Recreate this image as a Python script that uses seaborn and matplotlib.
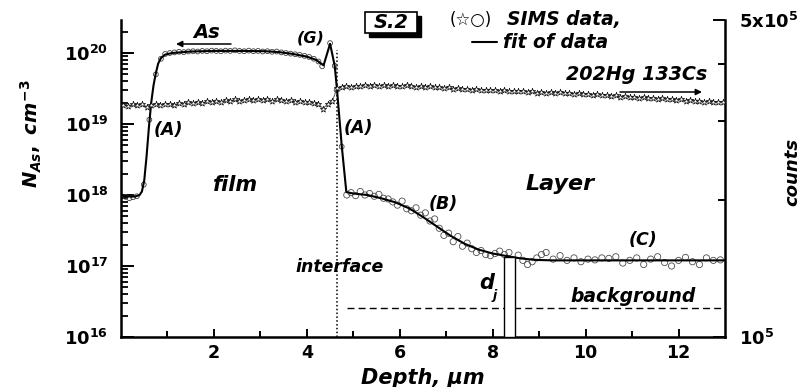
import numpy as np
import matplotlib
matplotlib.use("Agg")
import matplotlib.pyplot as plt
import seaborn as sns
from matplotlib.ticker import FixedLocator, FuncFormatter, NullFormatter
from matplotlib.patches import Rectangle
from matplotlib.lines import Line2D

# ---- As concentration: fitted profile (depth in um, N in cm^-3) ----
fit_depth = [0.05, 0.3, 0.4, 0.45, 0.5, 0.55, 0.6, 0.65, 0.7, 0.75, 0.8, 0.86,
             0.95, 1.1, 1.5, 2.0, 2.6, 3.1, 3.4, 3.7, 4.0, 4.2, 4.36, 4.5, 4.6,
             4.65, 4.75, 4.85, 5.0, 5.3, 5.6, 5.9, 6.2, 6.5, 6.8, 7.1, 7.4, 7.7,
             8.0, 8.3, 8.6, 8.9, 9.3, 13.0]
fit_conc = [9.6e17, 9.5e17, 1.0e18, 1.12e18, 1.6e18, 3.5e18, 8.9e18, 2.0e19,
            3.5e19, 5.2e19, 7.1e19, 8.5e19, 9.5e19, 1.0e20, 1.05e20, 1.07e20,
            1.07e20, 1.06e20, 1.03e20, 9.7e19, 8.9e19, 8.0e19, 6.7e19, 1.35e20,
            6.6e19, 3.0e19, 5.0e18, 1.1e18, 1.05e18, 1.0e18, 9.0e17, 7.9e17,
            6.5e17, 4.9e17, 3.6e17, 2.65e17, 2.05e17, 1.7e17, 1.5e17, 1.38e17,
            1.28e17, 1.22e17, 1.2e17, 1.2e17]

# ---- As SIMS data points: film ----
film_depth = [0.1, 0.18, 0.26, 0.34, 0.49, 0.61, 0.75, 0.86, 0.95, 1.05, 1.15,
              1.25, 1.35, 1.45, 1.55, 1.65, 1.75, 1.85, 1.95, 2.05, 2.15, 2.25,
              2.35, 2.45, 2.55, 2.65, 2.75, 2.85, 2.95, 3.05, 3.15, 3.25, 3.35,
              3.45, 3.55, 3.65, 3.75, 3.85, 3.95, 4.05, 4.15, 4.25, 4.33, 4.5,
              4.6, 4.64, 4.75]
film_conc = [9.4e17, 9.0e17, 9.3e17, 9.6e17, 1.4e18, 1.15e19, 5.0e19, 8.3e19,
             9.7e19, 1.0e20, 1.02e20, 1.04e20, 1.03e20, 1.05e20, 1.06e20,
             1.05e20, 1.07e20, 1.06e20, 1.08e20, 1.07e20, 1.06e20, 1.08e20,
             1.07e20, 1.09e20, 1.07e20, 1.06e20, 1.08e20, 1.06e20, 1.07e20,
             1.05e20, 1.06e20, 1.04e20, 1.05e20, 1.02e20, 1.0e20, 9.8e19,
             9.6e19, 9.4e19, 9.1e19, 8.8e19, 8.3e19, 7.6e19, 6.5e19, 1.38e20,
             6.6e19, 3.0e19, 4.8e18]

# ---- As SIMS data points: layer ----
layer_depth = [4.86, 4.95, 5.05, 5.15, 5.25, 5.35, 5.45, 5.55, 5.65, 5.75,
               5.85, 5.95, 6.05, 6.15, 6.25, 6.35, 6.45, 6.55, 6.65, 6.75,
               6.85, 6.95, 7.05, 7.15, 7.25, 7.35, 7.45, 7.55, 7.65, 7.75,
               7.85, 7.95, 8.05, 8.15, 8.25, 8.35, 8.55, 8.65, 8.75, 8.85,
               8.95, 9.05, 9.15, 9.3, 9.45, 9.6, 9.75, 9.9, 10.05, 10.2,
               10.35, 10.5, 10.65, 10.8, 10.95, 11.1, 11.25, 11.4, 11.55,
               11.7, 11.85, 12.0, 12.15, 12.3, 12.45, 12.6, 12.75, 12.9]
layer_conc = [1.0e18, 1.08e18, 9.8e17, 1.12e18, 1.0e18, 1.05e18, 9.6e17,
              1.02e18, 9.0e17, 8.8e17, 8.0e17, 7.2e17, 8.2e17, 6.4e17, 6.0e17,
              6.6e17, 5.2e17, 5.6e17, 4.3e17, 4.6e17, 3.4e17, 2.7e17, 2.9e17,
              2.2e17, 2.6e17, 1.9e17, 2.1e17, 1.75e17, 1.55e17, 1.65e17,
              1.45e17, 1.4e17, 1.5e17, 1.62e17, 1.45e17, 1.55e17, 1.42e17,
              1.2e17, 1.05e17, 1.15e17, 1.3e17, 1.45e17, 1.55e17, 1.25e17,
              1.4e17, 1.2e17, 1.3e17, 1.15e17, 1.25e17, 1.22e17, 1.3e17,
              1.28e17, 1.35e17, 1.1e17, 1.2e17, 1.3e17, 1.05e17, 1.25e17,
              1.35e17, 1.12e17, 1.0e17, 1.2e17, 1.32e17, 1.15e17, 1.05e17,
              1.3e17, 1.2e17, 1.22e17]

# ---- 202Hg 133Cs matrix signal, counts in units of 1e5, 0.1 um steps ----
hg_counts = [3.25, 3.23, 3.26, 3.24, 3.26, 3.22, 3.25, 3.27, 3.25, 3.26,
             3.27, 3.25, 3.28, 3.27, 3.29, 3.28, 3.30, 3.28, 3.31, 3.30,
             3.32, 3.30, 3.33, 3.31, 3.34, 3.32, 3.33, 3.35, 3.33, 3.34,
             3.33, 3.35, 3.32, 3.34, 3.33, 3.31, 3.33, 3.30, 3.32, 3.30,
             3.29, 3.28, 3.26, 3.19, 3.27, 3.31, 3.54, 3.56, 3.57, 3.56,
             3.58, 3.57, 3.59, 3.58, 3.60, 3.58, 3.59, 3.57, 3.59, 3.58,
             3.57, 3.59, 3.57, 3.56, 3.58, 3.56, 3.57, 3.55, 3.56, 3.54,
             3.55, 3.53, 3.54, 3.52, 3.53, 3.51, 3.52, 3.50, 3.51, 3.50,
             3.51, 3.49, 3.50, 3.48, 3.49, 3.48, 3.49, 3.47, 3.48, 3.46,
             3.47, 3.45, 3.47, 3.46, 3.47, 3.45, 3.46, 3.44, 3.45, 3.43,
             3.44, 3.42, 3.43, 3.41, 3.42, 3.40, 3.41, 3.39, 3.40, 3.38,
             3.39, 3.37, 3.38, 3.36, 3.37, 3.35, 3.36, 3.34, 3.35, 3.33,
             3.34, 3.32, 3.33, 3.31, 3.32, 3.30, 3.31, 3.29, 3.30, 3.30]
hg_depth = np.round(0.05 + 0.1 * np.arange(len(hg_counts)), 2)

interface_depth, interface_top = 4.64, 1.1e20
background_level, background_start = 2.6e16, 4.86
dj_left, dj_right, dj_top = 8.25, 8.49, 1.35e17

x_major = [2, 4, 6, 8, 10, 12]
x_minor = [1, 3, 5, 7, 9, 11]
y_major = [1e16, 1e17, 1e18, 1e19, 1e20]
y_minor = [m * 10.0 ** e for e in range(16, 21) for m in range(2, 10)]
r_major = [1e5, 5e5]
r_minor = [2e5, 3e5, 4e5]

sns.set_style("white")
plt.rcParams["font.family"] = ["DejaVu Sans"]
plt.rcParams["text.color"] = "black"
plt.rcParams["axes.labelcolor"] = "black"
plt.rcParams["xtick.color"] = "black"
plt.rcParams["ytick.color"] = "black"
plt.rcParams["mathtext.fontset"] = "custom"
plt.rcParams["mathtext.rm"] = "DejaVu Sans:bold"
plt.rcParams["mathtext.bf"] = "DejaVu Sans:bold"
plt.rcParams["mathtext.it"] = "DejaVu Sans:bold:italic"
plt.rcParams["mathtext.sf"] = "DejaVu Sans:bold"

W, H = 803, 387
fig = plt.figure(figsize=(W / 100, H / 100), dpi=100)
fig.patch.set_facecolor("white")
ax = fig.add_axes([121 / W, 1 - 337 / H, (725 - 121) / W, (337 - 20) / H])
ax.set_facecolor("white")
ax.set_yscale("log")
ax.set_xlim(0, 13)
ax.set_ylim(1e16, 10 ** 20.465)

# right axis: matrix signal in counts
ax2 = ax.twinx()
ax2.set_yscale("log")
ax2.set_ylim(1e5, 5e5)
sns.lineplot(x=hg_depth, y=np.array(hg_counts) * 1e5, ax=ax2, color="0.35",
             lw=0.7, estimator=None, sort=False)
sns.scatterplot(x=hg_depth, y=np.array(hg_counts) * 1e5, ax=ax2, marker="*",
                s=22, facecolor="white", edgecolor="black", linewidth=0.5,
                zorder=3)

# As: SIMS points and fit
sns.scatterplot(x=film_depth, y=film_conc, ax=ax, marker="o", s=12,
                facecolor="none", edgecolor="0.25", linewidth=0.6, zorder=3)
sns.scatterplot(x=layer_depth, y=layer_conc, ax=ax, marker="o", s=20,
                facecolor="none", edgecolor="0.3", linewidth=0.6, zorder=3)
sns.lineplot(x=fit_depth, y=fit_conc, ax=ax, color="black", lw=1.5,
             estimator=None, sort=False, zorder=4)

# interface, background level and junction depth marker
ax.vlines(interface_depth, 1e16, interface_top, colors="black",
          linestyles=(0, (1, 1.5)), lw=1.1)
ax.hlines(background_level, background_start, 13, colors="black",
          linestyles=(0, (5, 3)), lw=1.0)
ax.add_patch(Rectangle((dj_left, 1e16), dj_right - dj_left, dj_top - 1e16,
                       facecolor="white", edgecolor="black", lw=1.0, zorder=5))

# spines & ticks
for a in (ax, ax2):
    a.spines["top"].set_visible(False)
    for s in ("left", "right", "bottom"):
        a.spines[s].set_linewidth(1.8)
        a.spines[s].set_color("black")
ax2.spines["left"].set_visible(False)
ax2.spines["bottom"].set_visible(False)
ax.spines["right"].set_visible(False)

ax.xaxis.set_major_locator(FixedLocator(x_major))
ax.xaxis.set_minor_locator(FixedLocator(x_minor))
ax.xaxis.set_major_formatter(FuncFormatter(lambda v, p: f"{v:g}"))
ax.yaxis.set_major_locator(FixedLocator(y_major))
ax.yaxis.set_minor_locator(FixedLocator(y_minor))
ax.yaxis.set_minor_formatter(NullFormatter())
ax.yaxis.set_major_formatter(
    FuncFormatter(lambda v, p: r"$\mathbf{10^{%d}}$" % round(np.log10(v))))
ax.tick_params(axis="x", which="major", direction="in", length=6, width=1.4,
               labelsize=12.5, pad=5, bottom=True)
ax.tick_params(axis="x", which="minor", direction="in", length=4, width=1.4,
               bottom=True)
ax.tick_params(axis="y", which="major", direction="in", length=9, width=1.4,
               labelsize=13, pad=9, left=True)
ax.tick_params(axis="y", which="minor", direction="in", length=5, width=1.3,
               left=True)
for lab in ax.get_xticklabels():
    lab.set_fontweight("bold")

ax2.yaxis.set_major_locator(FixedLocator(r_major))
ax2.yaxis.set_minor_locator(FixedLocator(r_minor))
ax2.yaxis.set_minor_formatter(NullFormatter())
ax2.yaxis.set_major_formatter(FuncFormatter(
    lambda v, p: r"$\mathbf{10^{5}}$" if v < 2e5 else r"$\mathbf{5x10^{5}}$"))
ax2.tick_params(axis="y", which="major", direction="in", length=9, width=1.4,
                labelsize=13, pad=10, right=True)
ax2.tick_params(axis="y", which="minor", direction="in", length=5, width=1.4,
                right=True)

ax.set_xlabel("Depth, µm", fontsize=15, fontweight="bold", fontstyle="italic",
              labelpad=4)


def ftext(x, y, s, size, ha="center", va="center", weight="bold",
          style="italic", **kw):
    fig.text(x / W, 1 - y / H, s, fontsize=size, ha=ha, va=va,
             fontweight=weight, fontstyle=style, **kw)


def farrow(x0, y0, x1, y1):
    ax.annotate("", xy=(x1 / W, 1 - y1 / H), xytext=(x0 / W, 1 - y0 / H),
                xycoords="figure fraction", textcoords="figure fraction",
                arrowprops=dict(arrowstyle="-|>", lw=1.1, color="black",
                                mutation_scale=9, shrinkA=0, shrinkB=0))


# axis titles placed in figure pixels
fig.text(31 / W, 1 - 134 / H, r"$\mathit{N_{As}}\mathit{,\ cm}^{\mathit{-3}}$",
         fontsize=14, rotation=90, ha="center", va="center")
ftext(792, 172, "counts", 13, rotation=90)

# annotations
ftext(207, 33, "As", 14)
farrow(231, 44, 176, 44)
ftext(311, 38, "(G)", 11.5)
ftext(168, 130, "(A)", 12.5)
ftext(358, 128, "(A)", 12.5)
ftext(236, 185, "film", 15)
ftext(560, 184, "Layer", 16)
ftext(443, 204, "(B)", 12.5)
ftext(340, 267, "interface", 12.5)
ftext(487, 283, "d", 15)
ftext(495, 295, "j", 9)
ftext(643, 240, "(C)", 12.5)
ftext(633, 296, "background", 13.5)
ftext(637, 75, "202Hg 133Cs", 13.8)
farrow(620, 92, 702, 92)

# sample box with drop shadow
fig.patches.append(Rectangle((369 / W, 1 - 37 / H), 52 / W, 21 / H,
                             transform=fig.transFigure, facecolor="black",
                             edgecolor="black"))
fig.patches.append(Rectangle((365 / W, 1 - 33 / H), 52 / W, 21 / H,
                             transform=fig.transFigure, facecolor="white",
                             edgecolor="black", lw=1.2))
ftext(391, 22, "S.2", 14)

# legend text
ftext(450, 20, "(☆○)", 12, ha="left", weight="normal", style="normal")
ftext(507, 20, "SIMS data,", 13.5, ha="left")
fig.add_artist(Line2D([472 / W, 497 / W], [1 - 42 / H, 1 - 42 / H],
                      transform=fig.transFigure, color="black", lw=1.5))
ftext(503, 42, "fit of data", 13.5, ha="left")

fig.savefig("out.png", dpi=100, facecolor="white")
